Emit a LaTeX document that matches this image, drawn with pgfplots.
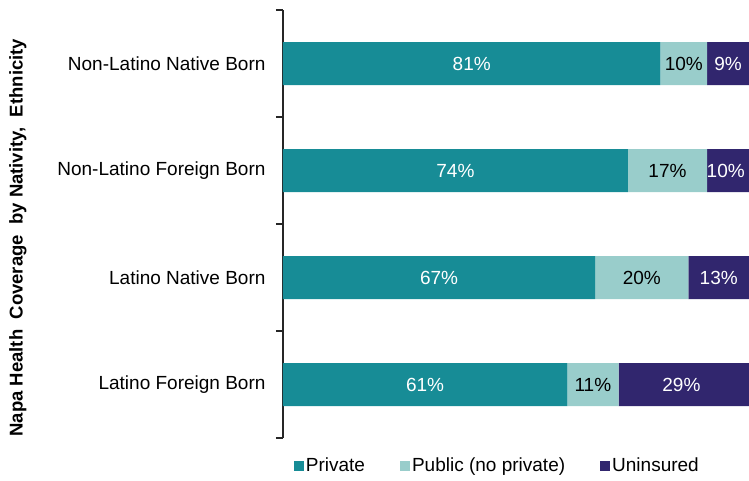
\documentclass[border=0pt]{standalone}
\usepackage{pgfplots}
\pgfplotsset{compat=1.18}
\usepackage{fontspec}
\setmainfont{Liberation Sans}
\definecolor{cpriv}{HTML}{178C96}
\definecolor{cpub}{HTML}{99CDCB}
\definecolor{cunin}{HTML}{31266E}
\newcommand\f{\fontsize{19}{22}\selectfont}
\pgfplotsset{
  common/.style={
    scale only axis,
    width=466pt, height=428pt,
    xmin=0, xmax=100,
    ymin=0.5, ymax=4.5,
    /pgf/number format/assume math mode=true,
  }
}
\begin{document}
\begin{tikzpicture}
\begin{axis}[
  name=ax,
  common,
  xbar stacked,
  bar width=43pt,
  axis x line=none,
  axis y line*=left,
  axis line style={line width=2pt, color=black!85},
  ytick={1,2,3,4},
  yticklabels={Latino Foreign Born, Latino Native Born, Non-Latino Foreign Born, Non-Latino Native Born},
  yticklabel style={font=\f, xshift=-14pt},
  major tick length=0pt,
  minor ytick={0.5,1.5,2.5,3.5,4.5},
  minor tick length=7pt,
  tick align=outside,
  minor y tick style={draw=black!85, line width=2pt},
  ylabel={\bfseries Napa Health\ \ Coverage\ \ by Nativity,\ \ Ethnicity},
  every axis y label/.style={at={(axis description cs:-0.569,0.468)}, rotate=90, anchor=center, font=\fontsize{18.5}{21}\selectfont},
  legend style={draw=none, at={(0.46,-0.065)}, anchor=center, legend columns=3, font=\f,
    /tikz/every even column/.append style={column sep=33pt}},
  legend image code/.code={\fill[#1,draw=none] (0pt,-5pt) rectangle (10pt,5pt);},
]
\addplot[fill=cpriv, draw=none] coordinates {(61,1) (67,2) (74,3) (81,4)};
\addplot[fill=cpub, draw=none] coordinates {(11,1) (20,2) (17,3) (10,4)};
\addplot[fill=cunin, draw=none] coordinates {(29,1) (13,2) (10,3) (9,4)};
\legend{Private, Public (no private), Uninsured}
\end{axis}
\begin{axis}[
  common,
  hide axis,
  point meta=explicit,
  nodes near coords={\pgfmathprintnumber{\pgfplotspointmeta}\%},
  nodes near coords align=center,
  every node near coord/.append style={anchor=center, font=\f},
]
\addplot[draw=none, mark=none, nodes near coords style={white}] coordinates {(30.5,1) [61] (33.5,2) [67] (37,3) [74] (40.5,4) [81]};
\addplot[draw=none, mark=none, nodes near coords style={black}] coordinates {(66.5,1) [11] (77,2) [20] (82.5,3) [17] (86,4) [10]};
\addplot[draw=none, mark=none, nodes near coords style={white}] coordinates {(85.5,1) [29] (93.5,2) [13] (95,3) [10] (95.5,4) [9]};
\end{axis}
\pgfresetboundingbox
\path[shift={(ax.south west)}] (-283pt,-42pt) rectangle (466pt,438pt);
\end{tikzpicture}
\end{document}
